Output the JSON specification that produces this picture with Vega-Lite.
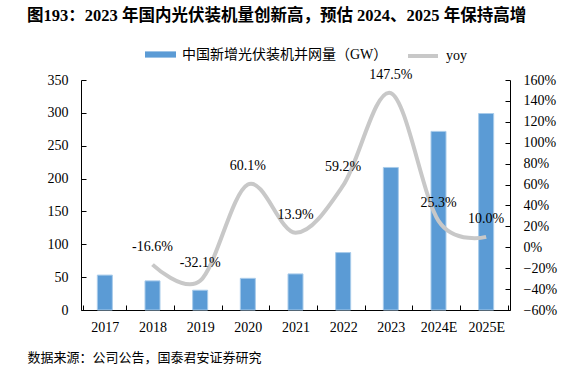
{
  "$schema": "https://vega.github.io/schema/vega-lite/v6.json",
  "width": 429,
  "height": 230,
  "padding": {"left": 27, "top": 7, "right": 5, "bottom": 5},
  "background": "white",
  "title": {
    "text": "图193：2023 年国内光伏装机量创新高，预估 2024、2025 年保持高增",
    "anchor": "start",
    "frame": "bounds",
    "font": "Liberation Serif, Noto Sans CJK SC",
    "fontSize": 16.5,
    "fontWeight": "bold",
    "color": "black",
    "offset": 15
  },
  "config": {
    "view": {"stroke": null},
    "axis": {"grid": false, "labelColor": "black", "domainColor": "black", "tickColor": "black", "labelFont": "Liberation Serif", "labelFontSize": 14}
  },
  "data": {
    "values": [
      {"year": "2017", "gw": 53.1, "yoy": null, "label": null},
      {"year": "2018", "gw": 44.3, "yoy": -0.166, "label": "-16.6%"},
      {"year": "2019", "gw": 30.1, "yoy": -0.321, "label": "-32.1%"},
      {"year": "2020", "gw": 48.2, "yoy": 0.601, "label": "60.1%"},
      {"year": "2021", "gw": 54.9, "yoy": 0.139, "label": "13.9%"},
      {"year": "2022", "gw": 87.4, "yoy": 0.592, "label": "59.2%"},
      {"year": "2023", "gw": 216.9, "yoy": 1.475, "label": "147.5%"},
      {"year": "2024E", "gw": 271.8, "yoy": 0.253, "label": "25.3%"},
      {"year": "2025E", "gw": 299.0, "yoy": 0.1, "label": "10.0%"}
    ]
  },
  "encoding": {
    "x": {
      "field": "year", "type": "ordinal", "sort": null,
      "axis": {
        "title": "数据来源：公司公告，国泰君安证券研究",
        "titleAnchor": "start", "titleAlign": "left", "titleX": -54, "titleY": 47,
        "titleBaseline": "middle",
        "titleFont": "Liberation Serif, Noto Sans CJK SC", "titleFontSize": 13, "titleFontWeight": "normal", "titleColor": "black",
        "labelAngle": 0, "tickBand": "extent", "tickSize": -5, "labelPadding": 15
      }
    }
  },
  "layer": [
    {
      "mark": {"type": "bar", "size": 15, "stroke": "#A8CBEA", "strokeWidth": 1},
      "encoding": {
        "y": {
          "field": "gw", "type": "quantitative",
          "scale": {"domain": [0, 350]},
          "axis": {"title": null, "values": [0, 50, 100, 150, 200, 250, 300, 350], "tickSize": -5, "labelPadding": 18, "orient": "left"}
        },
        "fill": {
          "datum": "中国新增光伏装机并网量（GW）", "type": "nominal",
          "scale": {"range": ["#5B9BD5"]},
          "legend": {
            "title": null, "orient": "none", "legendX": 64, "legendY": -41,
            "symbolType": "M-1,-0.2H1V0.2H-1Z", "symbolSize": 961, "symbolStrokeWidth": 0,
            "labelFont": "Liberation Serif, Noto Sans CJK SC", "labelFontSize": 14, "labelColor": "black", "labelOffset": 6, "labelLimit": 400
          }
        }
      }
    },
    {
      "layer": [
        {
          "mark": {"type": "line", "interpolate": "cardinal", "strokeWidth": 4},
          "encoding": {
            "stroke": {
              "datum": "yoy", "type": "nominal",
              "scale": {"range": ["#C8C8C8"]},
              "legend": {
                "title": null, "orient": "none", "legendX": 325, "legendY": -41,
                "symbolType": "stroke", "symbolSize": 900, "symbolStrokeWidth": 4,
                "labelFont": "Liberation Serif, Noto Sans CJK SC", "labelFontSize": 14, "labelColor": "black", "labelOffset": 6
              }
            }
          }
        },
        {
          "mark": {"type": "text", "dy": -18, "font": "Liberation Serif", "fontSize": 14, "color": "black"},
          "encoding": {"text": {"field": "label", "type": "nominal"}}
        }
      ],
      "encoding": {
        "y": {
          "field": "yoy", "type": "quantitative",
          "scale": {"domain": [-0.6, 1.6]},
          "axis": {"title": null, "orient": "right", "format": ".0%", "values": [-0.6, -0.4, -0.2, 0, 0.2, 0.4, 0.6, 0.8, 1.0, 1.2, 1.4, 1.6], "tickSize": -5, "labelPadding": 18}
        }
      }
    }
  ],
  "resolve": {"scale": {"y": "independent"}}
}
